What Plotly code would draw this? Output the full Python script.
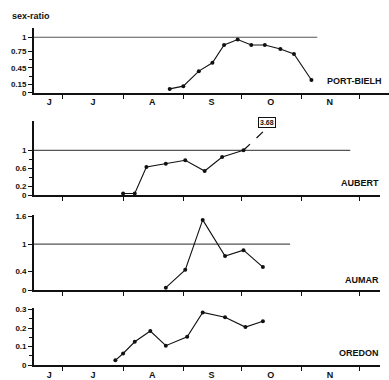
import plotly.graph_objects as go

W, H = 389, 380

# Days counted from 1 June
month_starts = [30, 61, 92, 122, 153, 183]          # Jul 1 ... Dec 1
month_label_pos = [23, 45.5, 76, 106.5, 137, 167.5]
month_labels = ["J", "J", "A", "S", "O", "N"]

# PORT-BIELH
pb_day = [85, 92, 100, 107, 113, 120, 127, 134, 142, 149, 158]
pb_ratio = [0.07, 0.12, 0.39, 0.54, 0.86, 0.96, 0.86, 0.86, 0.79, 0.70, 0.23]

# AUBERT
au_day = [61, 67, 73, 83, 93, 103, 112, 123]
au_ratio = [0.04, 0.04, 0.63, 0.70, 0.78, 0.54, 0.85, 1.0]
au_trend_day = [123, 133]
au_trend_ratio = [1.0, 1.41]
au_offscale_value = 3.68

# AUMAR
am_day = [83, 93, 102, 113.5, 123, 133]
am_ratio = [0.05, 0.44, 1.53, 0.74, 0.87, 0.50]

# OREDON
or_day = [57, 61, 67, 75, 83, 94, 102, 113.5, 124, 133]
or_ratio = [0.026, 0.063, 0.126, 0.184, 0.105, 0.153, 0.284, 0.258, 0.205, 0.237]

# Parity line (sex-ratio = 1) extent per lake
ref_end = {"pb": 161, "au": 178, "am": 147}

FONT = "Liberation Sans, Arial, sans-serif"
BLACK = "#111111"
GREY = "#555555"


def px_x(p):
    return p / W


def px_y(p):
    return 1 - p / H


fig = go.Figure()

panels = [
    # key, days, ratios, x axis id, y axis id
    ("pb", pb_day, pb_ratio, "x", "y"),
    ("au", au_day, au_ratio, "x2", "y2"),
    ("am", am_day, am_ratio, "x3", "y3"),
    ("or", or_day, or_ratio, "x4", "y4"),
]

x_left = 15.1
for key, d, r, xa, ya in panels:
    if key in ref_end:
        fig.add_trace(go.Scatter(
            x=[x_left, ref_end[key]], y=[1, 1], mode="lines",
            line=dict(color=GREY, width=1.2), xaxis=xa, yaxis=ya,
            hoverinfo="skip", showlegend=False))
    fig.add_trace(go.Scatter(
        x=d, y=r, mode="lines+markers",
        line=dict(color=BLACK, width=1.1),
        marker=dict(color=BLACK, size=4),
        xaxis=xa, yaxis=ya, showlegend=False, cliponaxis=False))

fig.add_trace(go.Scatter(
    x=au_trend_day, y=au_trend_ratio, mode="lines",
    line=dict(color=BLACK, width=1.3, dash="dash"),
    xaxis="x2", yaxis="y2", showlegend=False, cliponaxis=False))

tickfont = dict(family=FONT, size=8, color=BLACK, weight="bold")

# x-axis pixel extents
x0_px = 34
x_right_top = 30 + (389 - 63) / 1.941
x_right = 30 + (380 - 63) / 1.941


def xaxis(anchor, show_labels, right_px, right_day):
    return dict(
        domain=[px_x(x0_px), px_x(right_px)], anchor=anchor,
        range=[x_left, right_day],
        showgrid=False, zeroline=False,
        showline=True, linecolor=BLACK, linewidth=1.5,
        tickmode="array", tickvals=month_label_pos,
        ticktext=month_labels, ticks="", showticklabels=show_labels,
        tickfont=dict(family=FONT, size=9, color=BLACK, weight="bold"),
        minor=dict(tickmode="array", tickvals=month_starts,
                   ticks="outside", ticklen=4, tickwidth=1.2,
                   tickcolor=BLACK, showgrid=False),
        fixedrange=True,
    )


def yaxis(anchor, top_px, bottom_px, rng, vals, texts, minor_vals):
    return dict(
        domain=[px_y(bottom_px), px_y(top_px)], anchor=anchor,
        range=rng, showgrid=False, zeroline=False,
        showline=True, linecolor=BLACK, linewidth=1.8,
        tickmode="array", tickvals=vals, ticktext=texts,
        ticks="outside", ticklen=4, tickwidth=1.2, tickcolor=BLACK,
        tickfont=tickfont,
        minor=dict(tickmode="array", tickvals=minor_vals,
                   ticks="outside", ticklen=3, tickwidth=1.2,
                   tickcolor=BLACK, showgrid=False),
        fixedrange=True,
    )


fig.update_layout(
    width=W, height=H,
    margin=dict(l=0, r=0, t=0, b=0),
    paper_bgcolor="white", plot_bgcolor="white",
    xaxis=xaxis("y", True, 389, x_right_top),
    xaxis2=xaxis("y2", False, 380, x_right),
    xaxis3=xaxis("y3", False, 380, x_right),
    xaxis4=xaxis("y4", True, 380, x_right),
    yaxis=yaxis("x", 27, 93, [0, 1.16],
                [0, 0.15, 0.45, 0.75, 1], ["0", "0.15", "0.45", "0.75", "1"],
                [0.3, 0.6]),
    yaxis2=yaxis("x2", 122, 198, [0, 1.65],
                 [0, 0.2, 0.6, 1], ["0", "0.2", "0.6", "1"],
                 [0.4, 0.8]),
    yaxis3=yaxis("x3", 218, 295, [0, 1.64],
                 [0, 0.4, 1, 1.6], ["0", "0.4", "1", "1.6"],
                 []),
    yaxis4=yaxis("x4", 313, 372, [0, 0.31],
                 [0, 0.1, 0.2, 0.3], ["0", "0.1", "0.2", "0.3"],
                 [0.05, 0.15, 0.25]),
)

label_font = dict(family=FONT, size=9, color=BLACK, weight="bold")
annotations = [
    dict(text="sex-ratio", x=px_x(10), y=px_y(14), xanchor="left",
         yanchor="middle", font=label_font),
    dict(text="PORT-BIELH", x=px_x(325), y=px_y(81), xanchor="left",
         yanchor="middle", font=label_font),
    dict(text="AUBERT", x=px_x(381), y=px_y(185), xanchor="right",
         yanchor="middle", font=label_font),
    dict(text="AUMAR", x=px_x(381), y=px_y(285), xanchor="right",
         yanchor="middle", font=label_font),
    dict(text="OREDON", x=px_x(381), y=px_y(360), xanchor="right",
         yanchor="middle", font=label_font),
]
for a in annotations:
    a.update(xref="paper", yref="paper", showarrow=False)
    fig.add_annotation(**a)

fig.add_annotation(
    text=f"{au_offscale_value:.2f}", x=135, y=1.63, xref="x2", yref="y2",
    showarrow=False, bordercolor=BLACK, borderwidth=1, borderpad=1,
    bgcolor="white",
    font=dict(family=FONT, size=7, color=BLACK, weight="bold"))

fig.write_html("out.html")
